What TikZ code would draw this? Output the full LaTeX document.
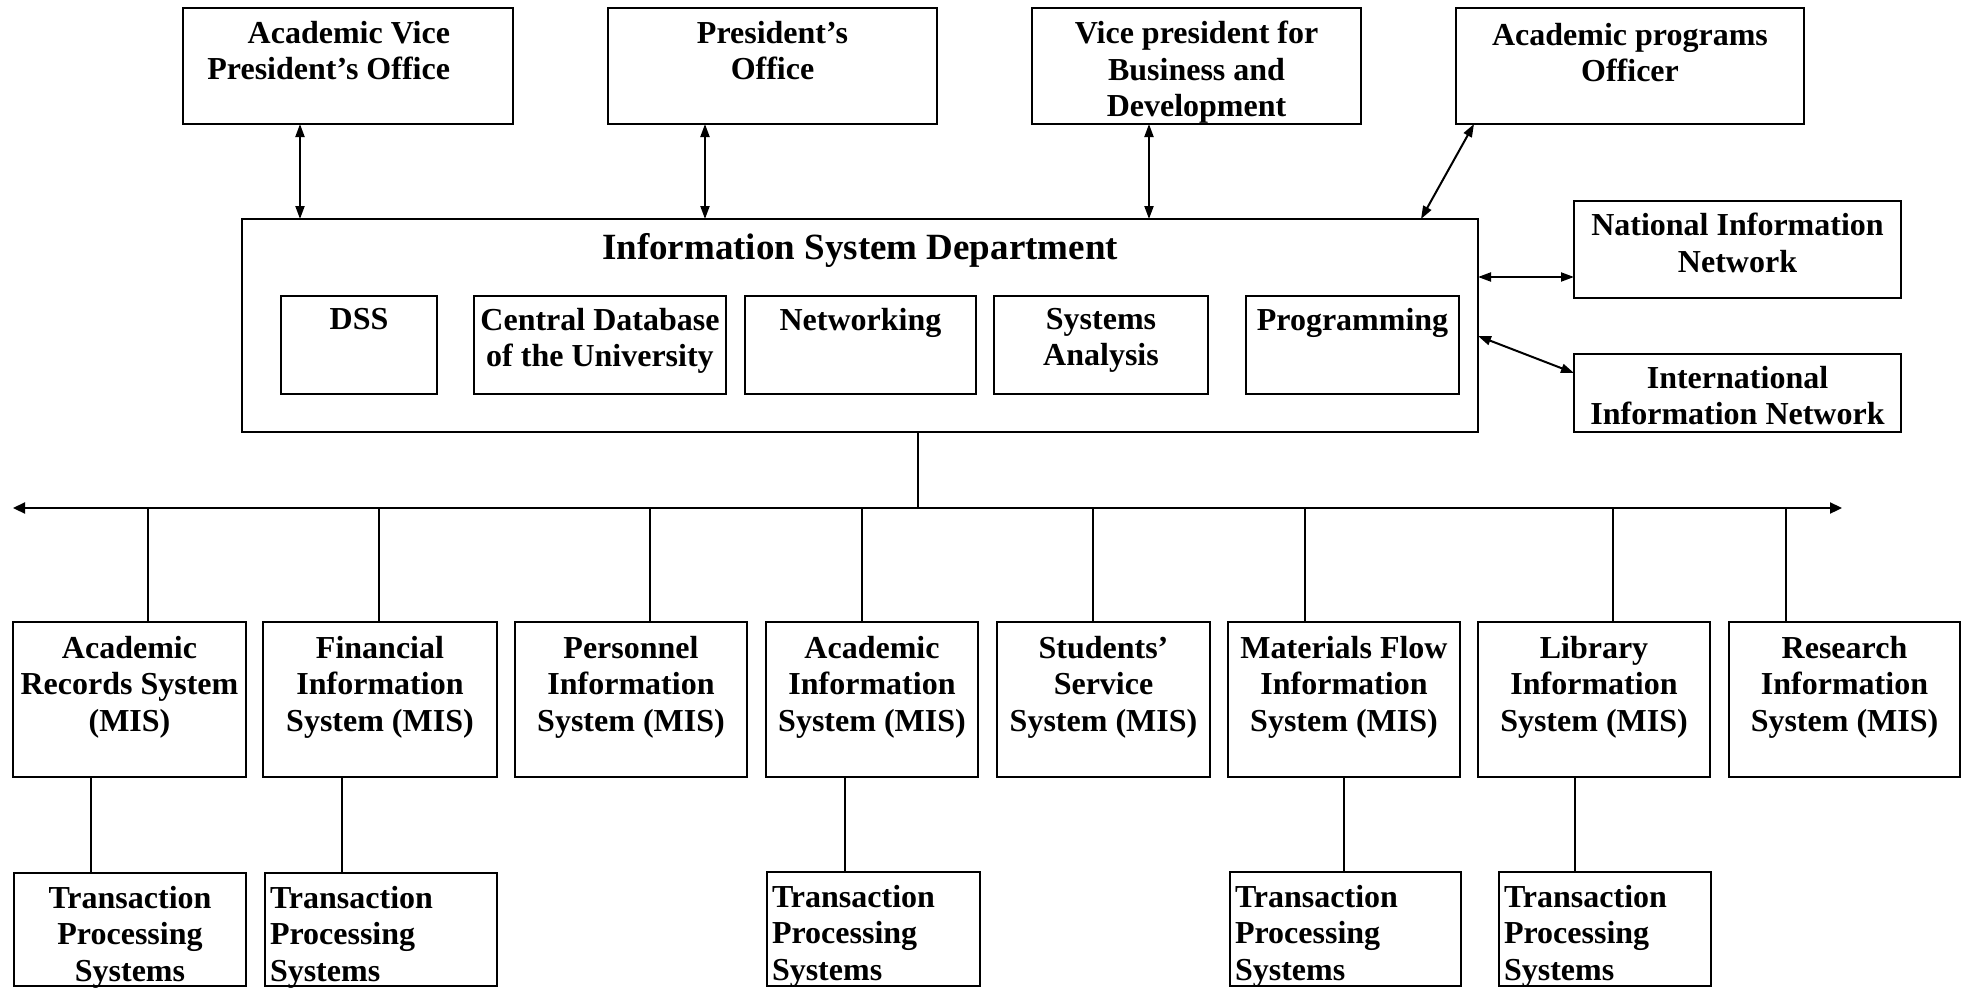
\documentclass[tikz,border=0pt]{standalone}
\usepackage{fontspec}
\setmainfont{Liberation Serif}
\usetikzlibrary{arrows.meta,calc}
\tikzset{
  box/.style={draw, line width=2pt, inner sep=0pt, outer sep=0pt},
  txt/.style={inner sep=0pt, outer sep=0pt, font=\fontsize{32}{36.7}\selectfont\bfseries, align=center},
  ttl/.style={inner sep=0pt, outer sep=0pt, font=\fontsize{37}{42}\selectfont\bfseries},
  conn/.style={line width=2pt},
  biarrow/.style={line width=2pt, {Triangle[length=13pt,width=9pt]}-{Triangle[length=13pt,width=9pt]}},
  busarrow/.style={line width=2.2pt, {Triangle[length=12pt,width=11pt]}-{Triangle[length=12pt,width=11pt]}},
}
\newcommand{\bx}[5]{%
  \node[box, minimum width={#4-#2}, minimum height={#5-#3}] (#1) at ({(#2+#4)/2},{(#3+#5)/2}) {};}
\begin{document}
\begin{tikzpicture}[x=1pt,y=-1pt]
\useasboundingbox (0,0) rectangle (1968,988);
% top row
\bx{avp}{183}{8}{513}{124}
\bx{pres}{608}{8}{937}{124}
\bx{vp}{1032}{8}{1361}{124}
\bx{apo}{1456}{8}{1804}{124}
\node[txt, align=right, anchor=north east] (avpt) at ([xshift=-63pt,yshift=-13pt]avp.north east) {Academic Vice\\President’s Office};
\node[txt, anchor=north] (prest) at ([yshift=-13pt]pres.north) {President’s\\Office};
\node[txt, anchor=north] (vpt) at ([yshift=-13pt]vp.north) {Vice president for\\Business and\\Development};
\node[txt, anchor=north] (apot) at ([yshift=-15pt]apo.north) {Academic programs\\Officer};
% ISD
\bx{isd}{242}{219}{1478}{432}
\node[ttl, anchor=north] (isdt) at ([yshift=-14pt]isd.north) {Information System Department};
\bx{dss}{281}{296}{437}{394}
\bx{cdb}{474}{296}{726}{394}
\bx{net}{745}{296}{976}{394}
\bx{sa}{994}{296}{1208}{394}
\bx{prog}{1246}{296}{1459}{394}
\node[txt, anchor=north] (dsst) at ([yshift=-12pt]dss.north) {DSS};
\node[txt, anchor=north] (cdbt) at ([yshift=-12pt]cdb.north) {Central Database\\of the University};
\node[txt, anchor=north] (nett) at ([yshift=-12pt]net.north) {Networking};
\node[txt, anchor=north] (sat) at ([yshift=-12pt]sa.north) {Systems\\Analysis};
\node[txt, anchor=north] (progt) at ([yshift=-12pt]prog.north) {Programming};
% right boxes
\bx{nat}{1574}{201}{1901}{298}
\bx{int}{1574}{354}{1901}{432}
\node[txt, anchor=north] (natt) at ([yshift=-12pt]nat.north) {National Information\\Network};
\node[txt, anchor=north] (intt) at ([yshift=-12pt]int.north) {International\\Information Network};
% top arrows
\coordinate (a1) at (300,0);
\coordinate (a2) at (705,0);
\coordinate (a3) at (1149,0);
\draw[biarrow] (a1 |- avp.south) -- (a1 |- isd.north);
\draw[biarrow] (a2 |- pres.south) -- (a2 |- isd.north);
\draw[biarrow] (a3 |- vp.south) -- (a3 |- isd.north);
\draw[biarrow] ([xshift=18pt]apo.south west) -- ([xshift=-57pt]isd.north east);
\coordinate (na) at ([yshift=-27.5pt]nat.west);
\draw[biarrow] (na -| isd.east) -- (na);
\draw[biarrow] ([yshift=-10.5pt]isd.east) -- ([yshift=-19pt]int.north west);
% bus
\coordinate (busL) at (13,508);
\coordinate (busR) at (1842,508);
\coordinate (bc) at (918,508);
\draw[busarrow] (busL) -- (busR);
\draw[conn] (bc |- isd.south) -- (bc);
% MIS boxes
\bx{m1}{13}{622}{246}{777}
\bx{m2}{263}{622}{497}{777}
\bx{m3}{515}{622}{747}{777}
\bx{m4}{766}{622}{978}{777}
\bx{m5}{997}{622}{1210}{777}
\bx{m6}{1228}{622}{1460}{777}
\bx{m7}{1478}{622}{1710}{777}
\bx{m8}{1729}{622}{1960}{777}
\node[txt, anchor=north] (m1t) at ([yshift=-14pt]m1.north) {Academic\\Records System\\(MIS)};
\node[txt, anchor=north] (m2t) at ([yshift=-14pt]m2.north) {Financial\\Information\\System (MIS)};
\node[txt, anchor=north] (m3t) at ([yshift=-14pt]m3.north) {Personnel\\Information\\System (MIS)};
\node[txt, anchor=north] (m4t) at ([yshift=-14pt]m4.north) {Academic\\Information\\System (MIS)};
\node[txt, anchor=north] (m5t) at ([yshift=-14pt]m5.north) {Students’\\Service\\System (MIS)};
\node[txt, anchor=north] (m6t) at ([yshift=-14pt]m6.north) {Materials Flow\\Information\\System (MIS)};
\node[txt, anchor=north] (m7t) at ([yshift=-14pt]m7.north) {Library\\Information\\System (MIS)};
\node[txt, anchor=north] (m8t) at ([yshift=-14pt]m8.north) {Research\\Information\\System (MIS)};
% drops
\coordinate (d1) at (148,508);
\coordinate (d2) at (379,508);
\coordinate (d3) at (650,508);
\coordinate (d4) at (862,508);
\coordinate (d5) at (1093,508);
\coordinate (d6) at (1305,508);
\coordinate (d7) at (1613,508);
\coordinate (d8) at (1786,508);
\draw[conn] (d1) -- (d1 |- m1.north);
\draw[conn] (d2) -- (d2 |- m2.north);
\draw[conn] (d3) -- (d3 |- m3.north);
\draw[conn] (d4) -- (d4 |- m4.north);
\draw[conn] (d5) -- (d5 |- m5.north);
\draw[conn] (d6) -- (d6 |- m6.north);
\draw[conn] (d7) -- (d7 |- m7.north);
\draw[conn] (d8) -- (d8 |- m8.north);
% TPS boxes
\bx{t1}{14}{873}{246}{986}
\bx{t2}{265}{873}{497}{986}
\bx{t3}{767}{872}{980}{986}
\bx{t4}{1230}{872}{1461}{986}
\bx{t5}{1499}{872}{1711}{986}
\node[txt, anchor=north] (t1t) at ([yshift=-13pt]t1.north) {Transaction\\Processing\\Systems};
\node[txt, align=left, anchor=north west] (t2t) at ([xshift=5pt,yshift=-13pt]t2.north west) {Transaction\\Processing\\Systems};
\node[txt, align=left, anchor=north west] (t3t) at ([xshift=5pt,yshift=-13pt]t3.north west) {Transaction\\Processing\\Systems};
\node[txt, align=left, anchor=north west] (t4t) at ([xshift=5pt,yshift=-13pt]t4.north west) {Transaction\\Processing\\Systems};
\node[txt, align=left, anchor=north west] (t5t) at ([xshift=5pt,yshift=-13pt]t5.north west) {Transaction\\Processing\\Systems};
% TPS connectors
\coordinate (c1) at (91,0);
\coordinate (c2) at (342,0);
\coordinate (c3) at (845,0);
\coordinate (c4) at (1344,0);
\coordinate (c5) at (1575,0);
\draw[conn] (c1 |- m1.south) -- (c1 |- t1.north);
\draw[conn] (c2 |- m2.south) -- (c2 |- t2.north);
\draw[conn] (c3 |- m4.south) -- (c3 |- t3.north);
\draw[conn] (c4 |- m6.south) -- (c4 |- t4.north);
\draw[conn] (c5 |- m7.south) -- (c5 |- t5.north);
\end{tikzpicture}
\end{document}
